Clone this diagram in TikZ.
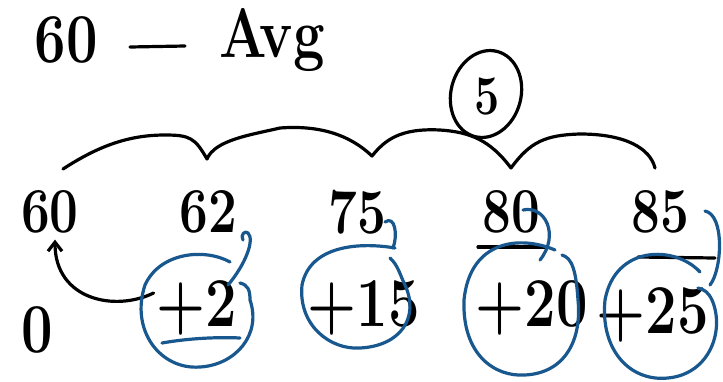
\documentclass[tikz,border=0pt]{standalone}
\usetikzlibrary{arrows.meta}
\definecolor{inkblue}{RGB}{24,88,142}
\tikzset{
  ink/.style={line width=3.2pt, line cap=round, line join=round},
  blueink/.style={ink, draw=inkblue},
  num/.style={inner sep=0pt, font=\fontsize{64}{64}\selectfont\bfseries, xscale=0.8},
  big/.style={inner sep=0pt, font=\fontsize{70}{70}\selectfont\bfseries, xscale=0.8},
}
\begin{document}
\begin{tikzpicture}[x=1pt,y=-1pt]
\useasboundingbox (0,0) rectangle (723,381);

% heading
\node[big] (h60) at (66,40) {60};
\node[big] (havg) at (272,40) {Avg};
\draw[ink] (130,47) -- (185,46);

% circled difference
\draw[ink, rotate around={-15:(486,94)}] (486,94) ellipse (35 and 44);
\node[num, font=\fontsize{56}{56}\selectfont\bfseries] (five) at (487,96) {5};

% values
\node[num] (n60) at (50,212) {60};
\node[num] (n62) at (208,212) {62};
\node[num] (n75) at (357,212) {75};
\node[num] (n80) at (511,212) {80};
\node[num] (n85) at (660,212) {85};

% braces over neighbouring values
\coordinate (b0) at (63,169);
\coordinate (c1) at (207,159);
\coordinate (c2) at (372,156);
\coordinate (c3) at (511,168);
\coordinate (b4) at (655,168);
\draw[ink] (b0) .. controls (100,145) and (130,135) .. (165,135)
  .. controls (190,135) and (195,138) .. (c1)
  .. controls (215,140) and (250,135) .. (280,128)
  .. controls (320,125) and (350,135) .. (c2)
  .. controls (385,140) and (400,128) .. (440,130)
  .. controls (470,132) and (490,140) .. (c3)
  .. controls (530,142) and (545,135) .. (580,134)
  .. controls (625,134) and (650,148) .. (b4);

% bars under 80 and 85
\draw[ink] (478,247) -- (545,247);
\draw[ink] (638,257) -- (715,258);

% differences
\node[big] (z0) at (37,330) {0};
\node[big] (p2) at (197,308) {+2};
\node[big] (p15) at (364,308) {+15};
\node[big] (p20) at (532,308) {+20};
\node[big] (p25) at (653,315) {+25};

% arrow back to the first value
\coordinate (arrfrom) at ([shift={(-3,-15)}]p2.west);
\coordinate (arrto) at ([shift={(5,6)}]n60.south);
\draw[ink, -{Straight Barb[length=9pt,width=14pt]}] (arrfrom)
  .. controls (115,312) and (55,300) .. (arrto);

% blue circles with their tails
\draw[blueink] (230,262) .. controls (205,248) and (160,252) .. (145,285)
  .. controls (130,330) and (160,370) .. (200,367)
  .. controls (235,365) and (262,335) .. (250,300)
  .. controls (250,290) and (248,285) .. (240,283);
\draw[blueink] (228,285) .. controls (245,265) and (255,240) .. (248,233)
  .. controls (245,230) and (240,235) .. (243,240);
\draw[blueink] (162,343) .. controls (190,338) and (220,337) .. (240,338);

\draw[blueink] (395,248) .. controls (360,242) and (310,245) .. (302,285)
  .. controls (298,325) and (330,350) .. (360,348)
  .. controls (400,346) and (420,318) .. (405,285)
  .. controls (400,275) and (398,265) .. (390,258);
\draw[blueink] (385,222) .. controls (395,215) and (398,235) .. (393,248);

\draw[blueink] (555,250) .. controls (520,235) and (470,240) .. (464,300)
  .. controls (462,355) and (495,377) .. (525,375)
  .. controls (565,373) and (582,340) .. (578,300)
  .. controls (576,270) and (572,258) .. (562,255);
\draw[blueink] (523,210) .. controls (545,205) and (560,235) .. (540,260);

\draw[blueink] (700,272) .. controls (675,245) and (615,245) .. (605,300)
  .. controls (600,350) and (630,382) .. (668,378)
  .. controls (710,374) and (725,330) .. (712,300)
  .. controls (708,292) and (705,290) .. (698,288);
\draw[blueink] (705,211) .. controls (725,215) and (722,270) .. (710,285);
\end{tikzpicture}
\end{document}
